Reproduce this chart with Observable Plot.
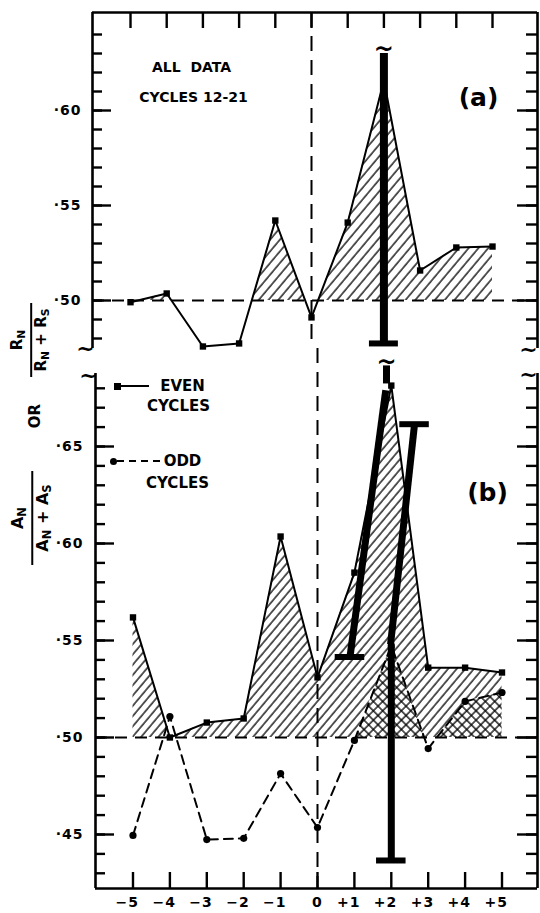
<!DOCTYPE html>
<html><head><meta charset="utf-8">
<script src="https://cdn.jsdelivr.net/npm/d3@7"></script>
<script src="https://cdn.jsdelivr.net/npm/@observablehq/plot@0.6"></script>
<style>
body{margin:0;background:#fff;}
#fig{position:relative;width:540px;height:913px;overflow:hidden;font-family:"DejaVu Sans",sans-serif;font-weight:bold;color:#000;}
#fig svg{position:absolute;left:0;top:0;background:transparent;}
.ylab{position:absolute;transform:translate(-50%,-50%) rotate(-90deg);white-space:nowrap;line-height:1;}
.frac{display:flex;flex-direction:column;align-items:center;}
.frac .bar{border-top:2.5px solid #000;margin:2px 0;}
.ylab sub{font-size:0.72em;vertical-align:-0.28em;}
.lg{position:absolute;background:#000;}
</style></head><body><div id="fig"></div>
<script>
// ---------- data ----------
const cycles = [-5, -4, -3, -2, -1, 0, 1, 2, 3, 4, 5];
const xTickLabels = ["−5", "−4", "−3", "−2", "−1", "0", "+1", "+2", "+3", "+4", "+5"];
// panel (a): all data, cycles 12-21
const allDataA = [0.4991, 0.5037, 0.4758, 0.4774, 0.5421, 0.4911, 0.5410, 0.6158, 0.5158, 0.5279, 0.5284];
// panel (b): even and odd cycles
const evenB = [0.5619, 0.5000, 0.5077, 0.5098, 0.6036, 0.5310, 0.5850, 0.6814, 0.5360, 0.5360, 0.5335];
const oddB  = [0.4495, 0.5108, 0.4474, 0.4480, 0.4814, 0.4536, 0.4985, 0.5474, 0.4943, 0.5186, 0.5232];
const yTicksA = [0.50, 0.55, 0.60];
const yTicksB = [0.45, 0.50, 0.55, 0.60, 0.65];
const baseline = 0.50;
// error bars as printed
const errBarA = [{x: 2, lo: 0.4774, hi: 0.630}];
const errSegsB = [
  {x1: 1.87, y1: 0.6825, x2: 1.87, y2: 0.6918},
  {x1: 1.85, y1: 0.6790, x2: 0.88, y2: 0.5415},
  {x1: 1.98, y1: 0.5480, x2: 2.63, y2: 0.6615},
  {x1: 2.00, y1: 0.5470, x2: 2.00, y2: 0.4366}
];
const errCapsB = [{x: 0.88, y: 0.5415}, {x: 2.63, y: 0.6615}, {x: 2.0, y: 0.4366}];
const breaksB = [{x: 1.87, y: 0.6933}];

// ---------- tables ----------
const rowsA = cycles.map((c, i) => ({cycle: c, v: allDataA[i]}));
const rowsB = cycles.map((c, i) => ({cycle: c, even: evenB[i], odd: oddB[i]}));
const rowsOddHi = rowsB.filter(d => d.cycle >= 1);
const yMinorA = d3.range(48, 65).map(d => d / 100);
const yMinorB = d3.range(43, 69).map(d => d / 100);

const W = 540, H = 913;
const FONT = "DejaVu Sans";
const fmtY = d => "·" + Math.round(d * 100);
const capHalf = 0.4;
const minorLen = 10, majorLen = 19, xTickLen = 16;
const bold = {fontWeight: "bold", fontFamily: FONT};
const mid = {textAnchor: "middle", lineAnchor: "middle", ...bold};

// ---------- panel (a) ----------
const xDomA = [-6.05, 6.243];
const yDomA = [0.47474, 0.65158];
const fwA = W - 92 - 3, fhA = 348 - 12;
const panelA = Plot.plot({
  width: W, height: H,
  marginLeft: 92, marginRight: 3, marginTop: 12, marginBottom: H - 348,
  x: {domain: xDomA, axis: null},
  y: {domain: yDomA},
  style: {background: "transparent", overflow: "visible", fontFamily: FONT},
  marks: [
    Plot.areaY(rowsA, {x: "cycle", y1: baseline, y2: "v", fill: "url(#hatchA)"}),
    Plot.rect([0], {x1: xDomA[0], x2: xDomA[1], y1: yDomA[0], y2: baseline, fill: "white"}),
    Plot.ruleY([baseline], {strokeWidth: 2, strokeDasharray: "12,8"}),
    Plot.ruleX([0], {strokeWidth: 2, strokeDasharray: "15,9"}),
    Plot.ruleX([xDomA[0], xDomA[1]], {strokeWidth: 2.6}),
    Plot.ruleY([yDomA[1]], {strokeWidth: 2.6}),
    Plot.tickY(yMinorA, {y: d => d, insetRight: fwA - minorLen, strokeWidth: 2.4}),
    Plot.tickY(yTicksA, {y: d => d, insetRight: fwA - majorLen, strokeWidth: 2.4}),
    Plot.tickY(yMinorA, {y: d => d, insetLeft: fwA - minorLen - 1, strokeWidth: 2.4}),
    Plot.tickY(yTicksA, {y: d => d, insetLeft: fwA - majorLen - 1, strokeWidth: 2.4}),
    Plot.tickX(cycles, {x: d => d, insetBottom: fhA - xTickLen, strokeWidth: 2.4}),
    Plot.axisY(yTicksA, {tickSize: 0, tickPadding: 11, tickFormat: fmtY, label: null, fontSize: 14, ...bold}),
    Plot.lineY(rowsA, {x: "cycle", y: "v", strokeWidth: 2}),
    Plot.dot(rowsA, {x: "cycle", y: "v", symbol: "square", r: 3.6, fill: "black"}),
    Plot.ruleX(errBarA, {x: "x", y1: "lo", y2: "hi", strokeWidth: 8}),
    Plot.ruleY(errBarA, {y: "lo", x1: d => d.x - capHalf, x2: d => d.x + capHalf, strokeWidth: 6}),
    Plot.text(errBarA, {x: "x", y: "hi", text: () => "~", fontSize: 24, dy: -4, ...mid}),
    Plot.text(["~"], {frameAnchor: "bottom-left", text: d => d, dx: -7, dy: 0, fontSize: 22, ...mid}),
    Plot.text(["~"], {frameAnchor: "bottom-right", text: d => d, dx: -9, dy: 1, fontSize: 22, ...mid}),
    Plot.text(["ALL  DATA"], {frameAnchor: "top-left", text: d => d, dx: 99, dy: 55, fontSize: 14, ariaLabel: "spaced-wide", ...mid}),
    Plot.text(["CYCLES 12-21"], {frameAnchor: "top-left", text: d => d, dx: 101, dy: 85, fontSize: 14, ariaLabel: "spaced", ...mid}),
    Plot.text(["(a)"], {frameAnchor: "top-right", text: d => d, dx: -59, dy: 85, fontSize: 25, ...mid})
  ]
});

// ---------- panel (b) ----------
const xDomB = [-6.016, 5.962];
const yDomB = [0.42216, 0.68763];
const fwB = W - 95 - 3, fhB = 888 - 373;
const panelB = Plot.plot({
  width: W, height: H,
  marginLeft: 95, marginRight: 3, marginTop: 373, marginBottom: H - 888,
  x: {domain: xDomB},
  y: {domain: yDomB},
  style: {background: "transparent", overflow: "visible", fontFamily: FONT},
  marks: [
    Plot.areaY(rowsB, {x: "cycle", y1: baseline, y2: "even", fill: "url(#hatchB)"}),
    Plot.areaY(rowsOddHi, {x: "cycle", y1: baseline, y2: "odd", fill: "url(#xhatchB)"}),
    Plot.rect([0], {x1: xDomB[0], x2: xDomB[1], y1: yDomB[0], y2: baseline, fill: "white"}),
    Plot.ruleY([baseline], {strokeWidth: 2, strokeDasharray: "12,8"}),
    Plot.ruleX([0], {strokeWidth: 2, strokeDasharray: "15,9", insetTop: -25}),
    Plot.ruleX([xDomB[0], xDomB[1]], {strokeWidth: 2.6}),
    Plot.ruleY([yDomB[0]], {strokeWidth: 2.6}),
    Plot.tickY(yMinorB, {y: d => d, insetRight: fwB - minorLen, strokeWidth: 2.4}),
    Plot.tickY(yTicksB, {y: d => d, insetRight: fwB - majorLen, strokeWidth: 2.4}),
    Plot.tickY(yMinorB, {y: d => d, insetLeft: fwB - minorLen - 1, strokeWidth: 2.4}),
    Plot.tickY(yTicksB, {y: d => d, insetLeft: fwB - majorLen - 1, strokeWidth: 2.4}),
    Plot.tickX(cycles, {x: d => d, insetTop: fhB - xTickLen, strokeWidth: 2.4}),
    Plot.axisY(yTicksB, {tickSize: 0, tickPadding: 12, tickFormat: fmtY, label: null, fontSize: 14, ...bold}),
    Plot.axisX(cycles.filter(c => c !== 0), {tickSize: 0, tickPadding: 9, label: null,
      tickFormat: d => xTickLabels[cycles.indexOf(d)], textAnchor: "end", dx: 6, fontSize: 14, ...bold}),
    Plot.axisX([0], {tickSize: 0, tickPadding: 9, label: null,
      tickFormat: d => xTickLabels[cycles.indexOf(d)], fontSize: 14, ...bold}),
    Plot.lineY(rowsB, {x: "cycle", y: "odd", strokeWidth: 2, strokeDasharray: "9,6"}),
    Plot.lineY(rowsB, {x: "cycle", y: "even", strokeWidth: 2}),
    Plot.dot(rowsB, {x: "cycle", y: "odd", r: 3.6, fill: "black"}),
    Plot.dot(rowsB, {x: "cycle", y: "even", symbol: "square", r: 3.6, fill: "black"}),
    Plot.link(errSegsB, {x1: "x1", y1: "y1", x2: "x2", y2: "y2", strokeWidth: 7}),
    Plot.ruleY(errCapsB, {y: "y", x1: d => d.x - capHalf, x2: d => d.x + capHalf, strokeWidth: 6}),
    Plot.text(breaksB, {x: "x", y: "y", text: () => "~", fontSize: 24, ...mid}),
    Plot.text(["~"], {frameAnchor: "top-left", text: d => d, dx: -7, dy: 2, fontSize: 22, ...mid}),
    Plot.text(["~"], {frameAnchor: "top-right", text: d => d, dx: -9, dy: 1, fontSize: 22, ...mid}),
    Plot.text(["EVEN"], {frameAnchor: "top-left", text: d => d, dx: 87, dy: 13, fontSize: 15, ariaLabel: "spaced", ...mid}),
    Plot.text(["CYCLES"], {frameAnchor: "top-left", text: d => d, dx: 83, dy: 33, fontSize: 15, ariaLabel: "spaced", ...mid}),
    Plot.text(["ODD"], {frameAnchor: "top-left", text: d => d, dx: 87, dy: 88, fontSize: 15, ariaLabel: "spaced", ...mid}),
    Plot.text(["CYCLES"], {frameAnchor: "top-left", text: d => d, dx: 82, dy: 110, fontSize: 15, ariaLabel: "spaced", ...mid}),
    Plot.text(["(b)"], {frameAnchor: "top-right", text: d => d, dx: -50, dy: 119, fontSize: 25, ...mid})
  ]
});

// ---------- patterns & finishing ----------
function addDefs(svg, html) {
  const defs = document.createElementNS("http://www.w3.org/2000/svg", "defs");
  defs.innerHTML = html;
  svg.insertBefore(defs, svg.firstChild);
}
addDefs(panelA, `<pattern id="hatchA" patternUnits="userSpaceOnUse" width="7.5" height="7.5" patternTransform="rotate(40)">
  <line x1="1" y1="0" x2="1" y2="7.5" stroke="#000" stroke-width="1.3"/></pattern>`);
addDefs(panelB, `<pattern id="hatchB" patternUnits="userSpaceOnUse" width="6.6" height="6.6" patternTransform="rotate(40)">
  <line x1="1" y1="0" x2="1" y2="6.6" stroke="#000" stroke-width="1.3"/></pattern>
  <pattern id="xhatchB" patternUnits="userSpaceOnUse" width="6.6" height="6.6" patternTransform="rotate(45)">
  <rect width="6.6" height="6.6" fill="#fff"/>
  <line x1="1" y1="0" x2="1" y2="6.6" stroke="#000" stroke-width="1.3"/>
  <line x1="0" y1="1" x2="6.6" y2="1" stroke="#000" stroke-width="1.3"/></pattern>`);
for (const svg of [panelA, panelB]) {
  svg.querySelectorAll('[aria-label="spaced"]').forEach(g => g.style.letterSpacing = "2.5px");
  svg.querySelectorAll('[aria-label="spaced-wide"]').forEach(g => g.style.letterSpacing = "3.5px");
  svg.querySelectorAll('[aria-label="y-axis tick label"], [aria-label="x-axis tick label"]').forEach(g => g.style.letterSpacing = "1px");
}

const fig = document.getElementById("fig");
fig.appendChild(panelA);
fig.appendChild(panelB);

// axis title (rotated fractions) and legend samples
fig.insertAdjacentHTML("beforeend", `
  <div class="ylab" style="left:31px;top:340px;font-size:15px">
    <div class="frac"><div>R<sub>N</sub></div><div class="bar" style="width:74px"></div><div>R<sub>N</sub> + R<sub>S</sub></div></div>
  </div>
  <div class="ylab" style="left:35px;top:416px;font-size:15px">OR</div>
  <div class="ylab" style="left:32px;top:518px;font-size:16px">
    <div class="frac"><div>A<sub>N</sub></div><div class="bar" style="width:94px"></div><div>A<sub>N</sub> + A<sub>S</sub></div></div>
  </div>
  <div class="lg" style="left:113.5px;top:382.5px;width:7px;height:7px"></div>
  <div class="lg" style="left:119px;top:385px;width:30px;height:2.2px"></div>
  <div class="lg" style="left:109.5px;top:457.5px;width:7px;height:7px;border-radius:50%"></div>
  <div class="lg" style="left:117px;top:460px;width:43px;height:2.2px;background:repeating-linear-gradient(to right,#000 0 7px,transparent 7px 12px)"></div>
`);
</script></body></html>
